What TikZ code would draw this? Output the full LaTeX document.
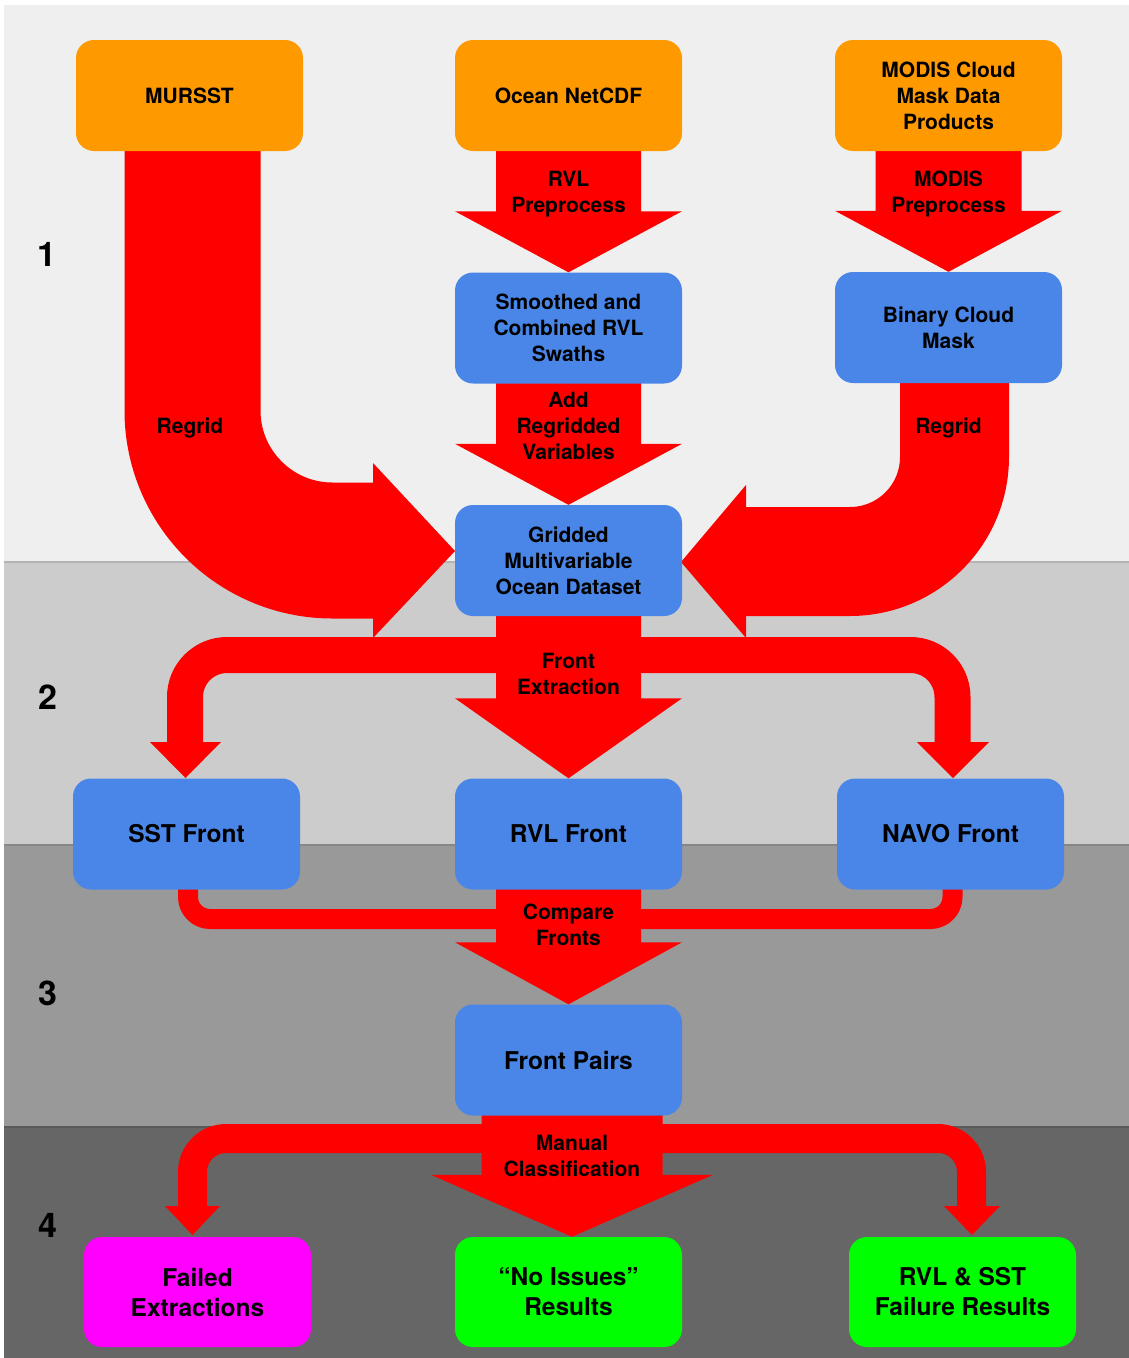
\documentclass[tikz,border=0pt]{standalone}
\usepackage{fontspec}
\setmainfont{TeX Gyre Heros}
\usetikzlibrary{calc}
\definecolor{bandA}{HTML}{EFEFEF}
\definecolor{bandB}{HTML}{CCCCCC}
\definecolor{bandC}{HTML}{999999}
\definecolor{bandD}{HTML}{666666}
\definecolor{srcorange}{HTML}{FF9900}
\definecolor{procblue}{HTML}{4A86E8}
\definecolor{flowred}{HTML}{FF0000}
\definecolor{failmag}{HTML}{FF00FF}
\definecolor{okgreen}{HTML}{00FF00}
\pgfdeclarelayer{bands}
\pgfdeclarelayer{flows}
\pgfsetlayers{bands,flows,main}
\tikzset{
  box/.style={rounded corners=18pt, minimum width=227pt, minimum height=111pt,
    inner sep=0pt, align=center, text=black,
    font=\fontsize{21}{26}\selectfont\bfseries},
  bigbox/.style={box, font=\fontsize{24.5}{30}\selectfont\bfseries},
  src/.style={box, fill=srcorange},
  proc/.style={box, fill=procblue},
  procbig/.style={bigbox, fill=procblue},
  failbox/.style={bigbox, fill=failmag, minimum height=110pt},
  okbox/.style={bigbox, fill=okgreen, minimum height=110pt},
  flow/.style={draw=flowred, line cap=butt, line join=round},
  headfill/.style={fill=flowred},
  lbl/.style={align=center, inner sep=0pt, text=black,
    font=\fontsize{21}{26}\selectfont\bfseries},
  stage/.style={inner sep=0pt, text=black, font=\fontsize{34}{34}\selectfont\bfseries},
}
% straight downward block arrow: from, to, shaft half width, head half width, head length, x shift
\newcommand\blockdown[6]{%
  \fill[flowred] ($(#1.south)+(#6-#3,-2)$) -- ($(#1.south)+(#6+#3,-2)$)
    -- ($(#2.north)+(#6+#3,-#5)$) -- ($(#2.north)+(#6+#4,-#5)$)
    -- ($(#2.north)+(#6,0)$)
    -- ($(#2.north)+(#6-#4,-#5)$) -- ($(#2.north)+(#6-#3,-#5)$) -- cycle;}
\begin{document}
\begin{tikzpicture}[x=1pt,y=-1pt]
\useasboundingbox (0,0) rectangle (1129,1358);
% bands
\begin{pgfonlayer}{bands}
  \fill[white] (0,0) rectangle (1129,1358);
  \fill[bandA] (4,5) rectangle (1129,562);
  \fill[bandB] (4,562) rectangle (1129,845);
  \fill[bandC] (4,845) rectangle (1129,1127);
  \fill[bandD] (4,1127) rectangle (1129,1358);
  \draw[line width=1.2pt, bandB!88!black] (4,562) -- (1129,562);
  \draw[line width=1.2pt, bandC!88!black] (4,845) -- (1129,845);
  \draw[line width=1.2pt, bandD!88!black] (4,1127) -- (1129,1127);
\end{pgfonlayer}

% boxes
\node[src] (mursst) at (189.5,95.5) {MURSST};
\node[src] (netcdf) at (568.5,95.5) {Ocean NetCDF};
\node[src] (modis) at (948.5,95.5) {MODIS Cloud\\Mask Data\\Products};
\node[proc] (smooth) at (568.5,328) {Smoothed and\\Combined RVL\\Swaths};
\node[proc] (binary) at (948.5,327.5) {Binary Cloud\\Mask};
\node[proc] (gridded) at (568.5,560.5) {Gridded\\Multivariable\\Ocean Dataset};
\node[procbig] (sst) at (186.5,834) {SST Front};
\node[procbig] (rvl) at (568.5,834) {RVL Front};
\node[procbig] (navo) at (950.5,834) {NAVO Front};
\node[procbig] (pairs) at (568.5,1060) {Front Pairs};
\node[failbox] (failed) at (197.5,1292) {Failed\\Extractions};
\node[okbox] (noissues) at (568.5,1292) {“No Issues”\\Results};
\node[okbox] (rvlsst) at (962.5,1292) {RVL \& SST\\Failure Results};

% flows
\begin{pgfonlayer}{flows}
  \blockdown{netcdf}{smooth}{72.5}{113.5}{61}{0}
  \blockdown{modis}{binary}{73}{113.5}{61}{0}
  \blockdown{smooth}{gridded}{72.5}{113.5}{61}{0}
  \blockdown{gridded}{rvl}{72.5}{113.5}{80}{0}
  \blockdown{rvl}{pairs}{72.5}{113.5}{62}{0}
  \blockdown{pairs}{noissues}{90.5}{141}{62}{3.5}
  % regrid MURSST
  \coordinate (lhb) at (374,550.5);
  \draw[flow, line width=136pt, rounded corners=140pt] ($(mursst.south)+(3,-2)$) |- (lhb);
  \fill[headfill] (373,463) -- (455,551) -- (373,638) -- cycle;
  % regrid binary mask
  \coordinate (rhb) at (745,561.5);
  \draw[flow, line width=109pt, rounded corners=104.5pt] ($(binary.south)+(6,-2)$) |- (rhb);
  \fill[headfill] (746,485) -- (681,562) -- (746,638) -- cycle;
  % front extraction branches
  \draw[flow, line width=36pt, rounded corners=42pt] (185,743) -- (185,655) -- (952.5,655) -- (952.5,743);
  \fill[headfill] (150,742) -- (221,742) -- (185.5,778) -- cycle;
  \fill[headfill] (917,742) -- (989,742) -- (953,778) -- cycle;
  % compare fronts branches
  \draw[flow, line width=20pt, rounded corners=22pt] (188,887) -- (188,919) -- (952.5,919) -- (952.5,887);
  % manual classification branches
  \draw[flow, line width=29pt, rounded corners=33.5pt] (192.5,1207) -- (192.5,1138.5) -- (971.5,1138.5) -- (971.5,1207);
  \fill[headfill] (165,1206) -- (220,1206) -- (192.5,1235) -- cycle;
  \fill[headfill] (944,1206) -- (1000,1206) -- (972,1235) -- cycle;
\end{pgfonlayer}

% flow labels
\node[lbl] (l1) at (568.5,194.5) {RVL\\Preprocess};
\node[lbl] (l2) at (948.5,194.5) {MODIS\\Preprocess};
\node[lbl] (l3) at (190,427.5) {Regrid};
\node[lbl] (l4) at (948.5,427.5) {Regrid};
\node[lbl] (l5) at (568.5,426) {Add\\Regridded\\Variables};
\node[lbl] (l6) at (568.5,674) {Front\\Extraction};
\node[lbl] (l7) at (568.5,925) {Compare\\Fronts};
\node[lbl] (l8) at (572,1156) {Manual\\Classification};

% stage numbers
\node[stage] (s1) at (47,254) {1};
\node[stage] (s2) at (48,697) {2};
\node[stage] (s3) at (48,993) {3};
\node[stage] (s4) at (48,1225) {4};
\end{tikzpicture}
\end{document}
